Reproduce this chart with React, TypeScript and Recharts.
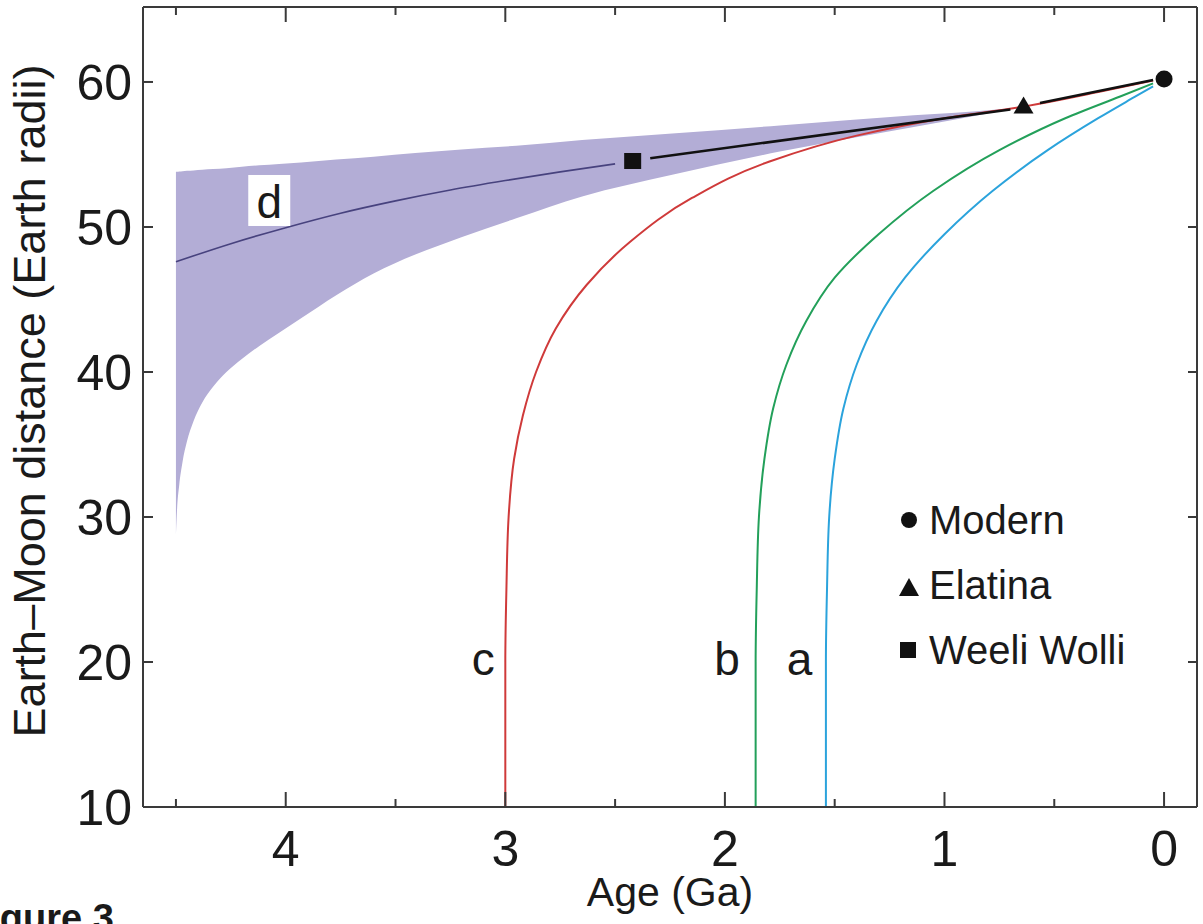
import { ComposedChart, Area, Line, Scatter, XAxis, YAxis } from 'recharts'

const FONT = '"Liberation Sans", Arial, Helvetica, sans-serif'
const INK = '#1a1a1a'
const FRAME = '#3a3a3a'

const xTicks = [0, 0.5, 1, 1.5, 2, 2.5, 3, 3.5, 4, 4.5]
const yTicks = [10, 20, 30, 40, 50, 60]

// shaded range of model d (age in Ga, distance in Earth radii)
const bandAge = [0.64, 0.76, 1.14, 1.75, 2.24, 2.65, 2.95, 3.2, 3.41, 3.6, 3.77, 3.93, 4.03, 4.12, 4.2, 4.27, 4.33, 4.38, 4.42, 4.45, 4.47, 4.485, 4.495, 4.5]
const bandLow = [58.3, 57.95, 56.9, 55.2, 53.6, 52.1, 50.6, 49.3, 48.1, 46.8, 45.3, 43.7, 42.7, 41.8, 40.9, 40.0, 39.0, 37.9, 36.6, 35.2, 33.8, 32.2, 30.5, 28.8]
const bandHigh = [58.3, 58.1, 57.7, 57.0, 56.45, 56.0, 55.6, 55.35, 55.1, 54.85, 54.65, 54.45, 54.35, 54.25, 54.15, 54.05, 54.0, 53.95, 53.9, 53.87, 53.85, 53.83, 53.81, 53.8]

// model d, central line
const dAge = [4.5, 4.25, 4.0, 3.75, 3.5, 3.25, 3.0, 2.75, 2.5]
const dVal = [47.6, 48.85, 49.95, 50.95, 51.8, 52.55, 53.2, 53.8, 54.35]

// black tie line through the tidal rhythmite points
const tie1Age = [2.34, 0.7]
const tie1Val = [54.74, 58.1]
const tie2Age = [0.565, 0.05]
const tie2Val = [58.55, 60.14]

// curves a, b, c (ordered by distance)
const cAge = [3.0, 3.0, 2.995, 2.985, 2.96, 2.92, 2.86, 2.77, 2.63, 2.43, 2.15, 1.8, 1.4, 1.0, 0.64, 0.3, 0.05]
const cVal = [10, 20, 25, 30, 34, 37, 40, 43, 46, 49, 52, 54.5, 56.3, 57.5, 58.3, 59.3, 60.1]
const bAge = [1.86, 1.86, 1.855, 1.845, 1.82, 1.78, 1.72, 1.63, 1.5, 1.3, 1.05, 0.75, 0.45, 0.2, 0.05]
const bVal = [10, 20, 25, 30, 34, 37.5, 40.5, 43.5, 46.5, 49.5, 52.5, 55.3, 57.5, 59, 59.9]
const aAge = [1.54, 1.54, 1.535, 1.525, 1.5, 1.46, 1.4, 1.31, 1.18, 1.0, 0.78, 0.53, 0.3, 0.13, 0.05]
const aVal = [10, 20, 25, 30, 34, 37.5, 40.5, 43.5, 46.5, 49.5, 52.5, 55.3, 57.5, 59, 59.7]

const modern = [{ age: 0, value: 60.2 }]
const elatina = [{ age: 0.64, value: 58.3 }]
const weeliWolli = [{ age: 2.42, value: 54.55 }]

const curveNames = ['c', 'b', 'a']
const curveNameAge = [3.1, 1.99, 1.66]
const curveNameVal = [19.1, 19.1, 19.1]

const zip = (ages: number[], vals: number[]) => ages.map((age, i) => ({ age, value: vals[i] }))

const bandRows = bandAge.map((age, i) => ({ age, band: [bandLow[i], bandHigh[i]] }))
const curveLabels = curveNames.map((text, i) => ({ age: curveNameAge[i], value: curveNameVal[i], text }))
const dLabel = [{ age: 4.075, value: 50.62, text: 'd' }]

const XTick = (top: boolean) => (p: any) => {
  const v = p.payload.value
  const major = Number.isInteger(v)
  const len = major ? 15 : 8
  return (
    <g>
      <line x1={p.x} x2={p.x} y1={p.y} y2={top ? p.y + len : p.y - len} stroke={FRAME} strokeWidth={2} />
      {!top && major && (
        <text x={p.x} y={p.y + 59} textAnchor="middle" fontSize={50} fill={INK} fontFamily={FONT}>
          {v}
        </text>
      )}
    </g>
  )
}

const YTick = (right: boolean) => (p: any) => (
  <g>
    <line x1={p.x} x2={right ? p.x - 9 : p.x + 10} y1={p.y} y2={p.y} stroke={FRAME} strokeWidth={2} />
    {!right && (
      <text x={p.x - 11} y={p.y + 18} textAnchor="end" fontSize={50} fill={INK} fontFamily={FONT}>
        {p.payload.value}
      </text>
    )}
  </g>
)

const circleShape = (p: any) => <circle cx={p.cx} cy={p.cy} r={8.5} fill="#111" />
const triangleShape = (p: any) => (
  <polygon points={`${p.cx - 10},${p.cy + 7} ${p.cx + 10},${p.cy + 7} ${p.cx},${p.cy - 10}`} fill="#111" />
)
const squareShape = (p: any) => <rect x={p.cx - 8.5} y={p.cy - 8} width={17} height={16} fill="#111" />
const letterShape = (p: any) => (
  <text x={p.cx} y={p.cy} textAnchor="middle" fontSize={46} fill={INK} fontFamily={FONT}>
    {p.payload.text}
  </text>
)
const boxedLetter = (p: any) => (
  <g>
    <rect x={p.cx - 21} y={p.cy - 43} width={42} height={51} fill="#fff" />
    <text x={p.cx} y={p.cy} textAnchor="middle" fontSize={46} fill={INK} fontFamily={FONT}>
      {p.payload.text}
    </text>
  </g>
)
const nothing = () => <g />

const axisLine = { stroke: FRAME, strokeWidth: 2 }

export default function App() {
  return (
    <div style={{ position: 'absolute', left: 0, top: 0, width: 1203, height: 924, overflow: 'hidden', background: '#fff' }}>
      <ComposedChart width={1203} height={924} data={bandRows} margin={{ top: 6, right: 5, bottom: 0, left: 0 }}>
        <XAxis dataKey="age" type="number" domain={[-0.15, 4.65]} reversed allowDataOverflow ticks={xTicks} interval={0}
          tick={XTick(false)} tickLine={false} tickSize={0} tickMargin={0} height={117} axisLine={axisLine} />
        <XAxis xAxisId="top" orientation="top" dataKey="age" type="number" domain={[-0.15, 4.65]} reversed allowDataOverflow
          ticks={xTicks} interval={0} tick={XTick(true)} tickLine={false} tickSize={0} tickMargin={0} height={1} axisLine={axisLine} />
        <YAxis type="number" domain={[10, 65.17]} allowDataOverflow ticks={yTicks} interval={0} tick={YTick(false)}
          tickLine={false} tickSize={0} tickMargin={0} width={143} axisLine={axisLine} />
        <YAxis yAxisId="right" orientation="right" type="number" domain={[10, 65.17]} allowDataOverflow ticks={yTicks} interval={0}
          tick={YTick(true)} tickLine={false} tickSize={0} tickMargin={0} width={1} axisLine={axisLine} />

        <Area dataKey="band" type="monotone" fill="#b3add6" fillOpacity={1} stroke="none" isAnimationActive={false} />
        <Line data={zip(dAge, dVal)} dataKey="value" type="monotone" stroke="#47427e" strokeWidth={1.6} dot={false} isAnimationActive={false} />
        <Line data={zip(cAge, cVal)} dataKey="value" type="monotoneY" stroke="#cf3a3a" strokeWidth={2} dot={false} isAnimationActive={false} />
        <Line data={zip(bAge, bVal)} dataKey="value" type="monotoneY" stroke="#23a05a" strokeWidth={2} dot={false} isAnimationActive={false} />
        <Line data={zip(aAge, aVal)} dataKey="value" type="monotoneY" stroke="#2ba3dc" strokeWidth={2} dot={false} isAnimationActive={false} />
        <Line data={zip(tie1Age, tie1Val)} dataKey="value" type="linear" stroke="#111" strokeWidth={2.5} dot={false} isAnimationActive={false} />
        <Line data={zip(tie2Age, tie2Val)} dataKey="value" type="linear" stroke="#111" strokeWidth={2.5} dot={false} isAnimationActive={false} />

        <Scatter data={modern} dataKey="value" shape={circleShape} isAnimationActive={false} />
        <Scatter data={elatina} dataKey="value" shape={triangleShape} isAnimationActive={false} />
        <Scatter data={weeliWolli} dataKey="value" shape={squareShape} isAnimationActive={false} />
        <Scatter data={curveLabels} dataKey="value" shape={letterShape} isAnimationActive={false} />
        <Scatter data={dLabel} dataKey="value" shape={boxedLetter} isAnimationActive={false} />
        {/* keeps the mirrored top / right axes alive */}
        <Scatter xAxisId="top" yAxisId="right" data={modern} dataKey="value" shape={nothing} isAnimationActive={false} />
      </ComposedChart>

      <svg width={1203} height={924} style={{ position: 'absolute', left: 0, top: 0, pointerEvents: 'none' }}>
        <g fontFamily={FONT} fill={INK}>
          <text x={670} y={906} textAnchor="middle" fontSize={41}>Age (Ga)</text>
          <text transform="translate(45,401) rotate(-90)" textAnchor="middle" fontSize={45}>Earth–Moon distance (Earth radii)</text>

          <circle cx={909} cy={520} r={8} fill="#111" />
          <text x={929} y={534} fontSize={40}>Modern</text>
          <polygon points="899,596 919,596 909,578" fill="#111" />
          <text x={929} y={599} fontSize={40}>Elatina</text>
          <rect x={900} y={642} width={16} height={16} fill="#111" />
          <text x={929} y={664} fontSize={40}>Weeli Wolli</text>

          <text x={-34} y={931} fontSize={38} fontWeight="bold">Figure 3</text>
        </g>
      </svg>
    </div>
  )
}
